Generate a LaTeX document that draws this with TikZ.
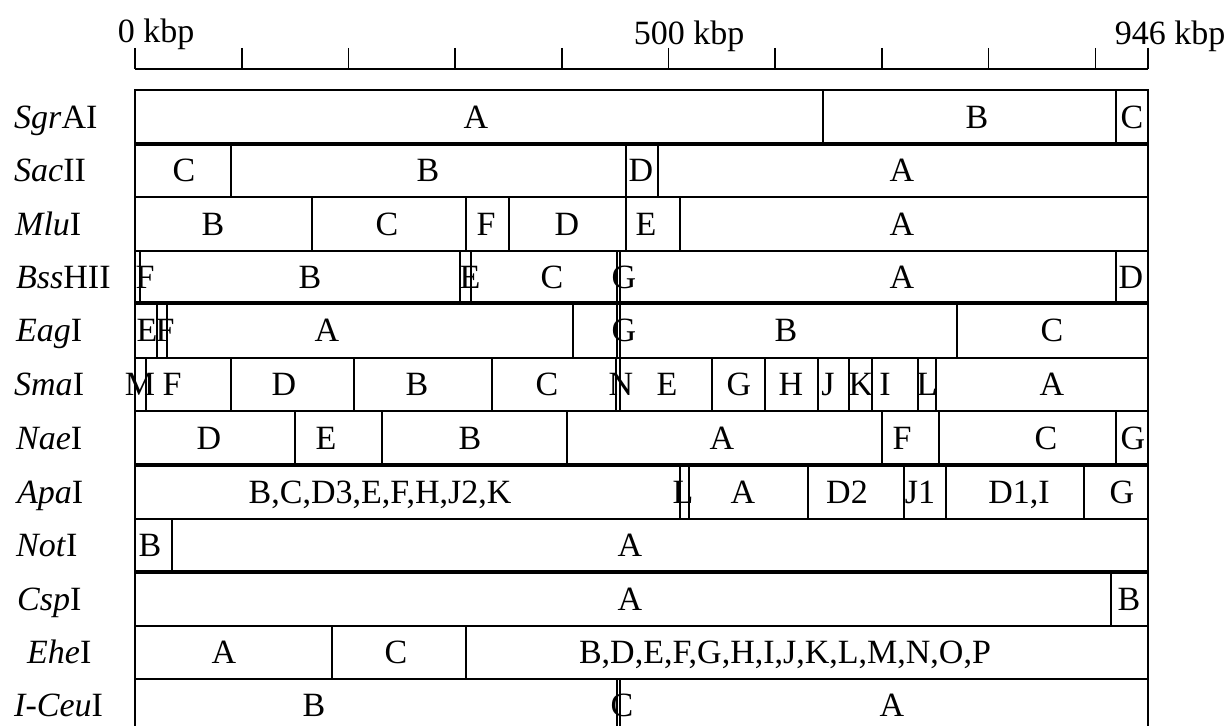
\documentclass[tikz,border=0pt]{standalone}
\usepackage{fontspec}
\setmainfont{Liberation Serif}
\usepackage{tikz}
\usetikzlibrary{positioning}

\tikzset{
    frag/.style={font=\fontsize{34}{38}\selectfont, inner sep=0pt, anchor=base},
    enz/.style={font=\fontsize{34}{38}\selectfont, inner sep=0pt, anchor=base west},
    rule/.style={line width=1.6pt},
}

% 一行酶切片段：名称, 上沿, 下沿, 切点, 标签
\newcommand{\maprow}[5]{%
    \draw[rule] (135,#2) rectangle (1148,#3);
    \foreach \c in {#4} \draw[rule] (\c,#2) -- (\c,#3);
    \foreach \x/\t [count=\k] in {#5}
        \node[frag] (#1-\k) at (\x,{(#2+#3)/2+11}) {\t};
}

\begin{document}
\begin{tikzpicture}[x=1pt, y=-1pt]
    \useasboundingbox (0,0) rectangle (1230,725);
    \clip (0,0) rectangle (1230,725);

    % 标尺
    \draw[rule] (135,69) -- (1148,69);
    \foreach \k in {0,...,9} {
        \draw[rule] ({135+106.7*\k},48) -- ({135+106.7*\k},69);
    }
    \draw[rule] (1148,48) -- (1148,69);
    \node[frag] (kb0) at (156,42) {0 kbp};
    \node[frag] (kb500) at (689,45) {500 kbp};
    \node[frag] (kb946) at (1170,45) {946 kbp};

    % 片段
    \maprow{sgr}{90}{144}{823,1116}{476/A,977/B,1132/C}
    \maprow{sac}{144}{197}{231,626,658}{184/C,428/B,641/D,902/A}
    \maprow{mlu}{197}{251}{312,466,509,626,680}{213/B,387/C,486/F,567/D,646/E,902/A}
    \maprow{bss}{251}{303}{140,460,471,617,620,1116}{145/F,310/B,470/E,552/C,624/G,902/A,1131/D}
    \maprow{eag}{303}{358}{157,167,573,617,620,957}{147/E,165/F,327/A,624/G,786/B,1052/C}
    \maprow{sma}{358}{411}{146,231,354,492,616,620,712,765,818,849,872,918,936}{140/M,172/F,284/D,417/B,547/C,621/N,667/E,739/G,791/H,828/J,861/K,885/I,927/L,1052/A}
    \maprow{nae}{411}{465}{295,382,567,882,939,1116}{209/D,326/E,470/B,722/A,902/F,1046/C,1133/G}
    \maprow{apa}{465}{519}{680,689,808,904,946,1084}{380/{B,C,D3,E,F,H,J2,K},683/L,743/A,847/D2,920/J1,1019/{D1,I},1122/G}
    \maprow{not}{519}{572}{172}{150/B,630/A}
    \maprow{csp}{572}{626}{1111}{630/A,1129/B}
    \maprow{ehe}{626}{679}{332,466}{224/A,396/C,785/{B,D,E,F,G,H,I,J,K,L,M,N,O,P}}
    \maprow{ceu}{679}{732}{617,620}{314/B,622/C,892/A}

    % 粗分隔线
    \foreach \y in {144,303,465,572} {
        \draw[line width=3.2pt] (135,\y) -- (1148,\y);
    }

    % 酶名
    \node[enz] (nSgr) at (14,128) {\textit{Sgr}AI};
    \node[enz] (nSac) at (14,181) {\textit{Sac}II};
    \node[enz] (nMlu) at (15,235) {\textit{Mlu}I};
    \node[enz] (nBss) at (16,288) {\textit{Bss}HII};
    \node[enz] (nEag) at (16,341) {\textit{Eag}I};
    \node[enz] (nSma) at (14,395) {\textit{Sma}I};
    \node[enz] (nNae) at (16,449) {\textit{Nae}I};
    \node[enz] (nApa) at (17,503) {\textit{Apa}I};
    \node[enz] (nNot) at (16,556) {\textit{Not}I};
    \node[enz] (nCsp) at (17,610) {\textit{Csp}I};
    \node[enz] (nEhe) at (27,663) {\textit{Ehe}I};
    \node[enz] (nCeu) at (14,716) {\textit{I-Ceu}I};
\end{tikzpicture}
\end{document}
